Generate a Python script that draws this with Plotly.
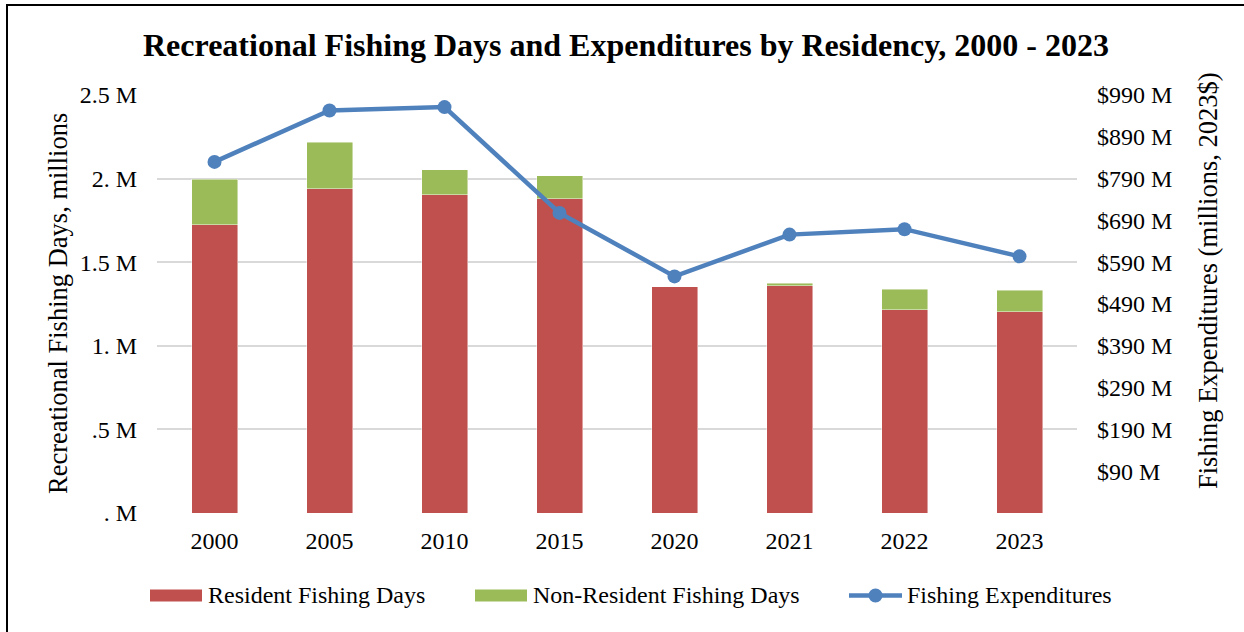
import plotly.graph_objects as go

# Survey years and values (days in millions, spending in millions of 2023 dollars)
years = ["2000", "2005", "2010", "2015", "2020", "2021", "2022", "2023"]
resident_days = [1.723, 1.940, 1.904, 1.880, 1.353, 1.358, 1.215, 1.205]
nonresident_days = [0.273, 0.278, 0.148, 0.136, 0.0, 0.017, 0.122, 0.126]
expenditures = [830, 953, 961, 708, 556, 656, 669, 604]

left_ticks = [0, 0.5, 1.0, 1.5, 2.0, 2.5]
left_labels = [". M", ".5 M", "1. M", "1.5 M", "2. M", "2.5 M"]
right_ticks = [90, 190, 290, 390, 490, 590, 690, 790, 890, 990]
right_labels = ["$%d M" % v for v in right_ticks]

series_names = ["Resident Fishing Days", "Non-Resident Fishing Days", "Fishing Expenditures"]
RED, GREEN, BLUE = "#C0504D", "#9BBB59", "#4F81BD"

FONT = "'Liberation Serif', 'Times New Roman', Times, serif"
W, H = 1244, 632
L, R, T, B = 157, 167, 95, 119
PW, PH = W - L - R, H - T - B


def px_x(x):
    return (x - L) / PW


def px_y(y):
    return (H - B - y) / PH


fig = go.Figure()
fig.add_trace(go.Bar(
    x=years, y=resident_days, name=series_names[0],
    marker=dict(color=RED, line=dict(color="rgba(255,255,255,0.6)", width=0.75)),
))
fig.add_trace(go.Bar(
    x=years, y=nonresident_days, name=series_names[1],
    marker=dict(color=GREEN, line=dict(color="rgba(255,255,255,0.6)", width=0.75)),
))
fig.add_trace(go.Scatter(
    x=years, y=expenditures, name=series_names[2], yaxis="y2",
    mode="lines+markers",
    line=dict(color=BLUE, width=4.5),
    marker=dict(color=BLUE, size=14),
))

# Legend drawn as shapes + labels so the swatches can be wide Excel-style bars
legend_y = 595
shapes = [
    dict(type="rect", xref="paper", yref="paper",
         x0=px_x(150), x1=px_x(202), y0=px_y(589.5), y1=px_y(601.5),
         fillcolor=RED, line=dict(width=0)),
    dict(type="rect", xref="paper", yref="paper",
         x0=px_x(475), x1=px_x(527), y0=px_y(589.5), y1=px_y(601.5),
         fillcolor=GREEN, line=dict(width=0)),
    dict(type="line", xref="paper", yref="paper",
         x0=px_x(849), x1=px_x(902), y0=px_y(legend_y + 0.5), y1=px_y(legend_y + 0.5),
         line=dict(color=BLUE, width=4.5)),
    dict(type="circle", xref="paper", yref="paper",
         x0=px_x(868.5), x1=px_x(882.5), y0=px_y(588.5), y1=px_y(602.5),
         fillcolor=BLUE, line=dict(width=0)),
    # chart frame
    dict(type="line", xref="paper", yref="paper",
         x0=px_x(7), x1=px_x(7), y0=px_y(5), y1=px_y(650),
         line=dict(color="black", width=2)),
    dict(type="line", xref="paper", yref="paper",
         x0=px_x(6), x1=px_x(1260), y0=px_y(5), y1=px_y(5),
         line=dict(color="black", width=2)),
]

annotations = [
    dict(text="<b>Recreational Fishing Days and Expenditures by Residency, 2000 - 2023</b>",
         xref="paper", yref="paper", x=px_x(626), y=px_y(45),
         xanchor="center", yanchor="middle", showarrow=False,
         font=dict(family=FONT, size=32)),
    dict(text="Recreational Fishing Days, millions",
         xref="paper", yref="paper", x=px_x(58), y=px_y(304),
         xanchor="center", yanchor="middle", textangle=-90, showarrow=False,
         font=dict(family=FONT, size=26.5)),
    dict(text="Fishing Expenditures (millions, 2023$)",
         xref="paper", yref="paper", x=px_x(1208), y=px_y(281),
         xanchor="center", yanchor="middle", textangle=-90, showarrow=False,
         font=dict(family=FONT, size=26.5)),
]
for name, x0 in zip(series_names, [206, 531, 905]):
    annotations.append(dict(
        text=name, xref="paper", yref="paper", x=px_x(x0), y=px_y(legend_y),
        xanchor="left", yanchor="middle", showarrow=False,
        font=dict(family=FONT, size=24),
    ))

fig.update_layout(
    width=W, height=H,
    margin=dict(l=L, r=R, t=T, b=B),
    paper_bgcolor="white", plot_bgcolor="white",
    barmode="stack", bargap=0.6,
    font=dict(family=FONT, size=24, color="black"),
    showlegend=False,
    xaxis=dict(
        type="category", showgrid=False, showline=False, zeroline=False,
        ticks="", ticklabelstandoff=11,
        tickfont=dict(family=FONT, size=24),
    ),
    yaxis=dict(
        range=[0, 2.5], tickvals=left_ticks, ticktext=left_labels,
        showgrid=True, gridcolor="#D9D9D9", gridwidth=1.5,
        zeroline=False, showline=False, ticks="",
        ticklabelstandoff=19,
        tickfont=dict(family=FONT, size=24),
    ),
    yaxis2=dict(
        overlaying="y", side="right", range=[-10, 990],
        tickvals=right_ticks, ticktext=right_labels,
        showgrid=False, zeroline=False, showline=False, ticks="",
        ticklabelstandoff=19,
        tickfont=dict(family=FONT, size=24),
    ),
    shapes=shapes,
    annotations=annotations,
)

fig.write_html("out.html")
